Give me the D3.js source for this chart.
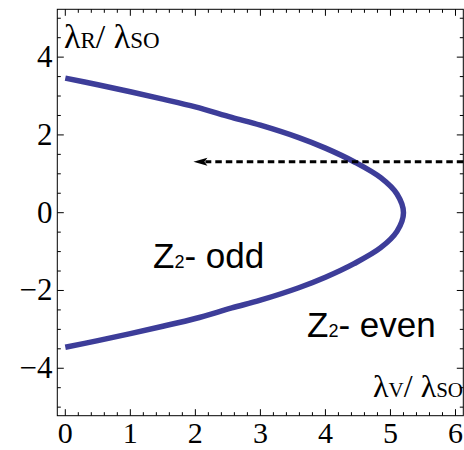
<!DOCTYPE html>
<html>
<head>
<meta charset="utf-8">
<script src="https://cdn.jsdelivr.net/npm/d3@7"></script>
<style>
  html, body { margin: 0; padding: 0; background: #fff; }
  svg { display: block; }
  .serif { font-family: "Liberation Serif", "Times New Roman", serif; }
  .sans { font-family: "Liberation Sans", Arial, sans-serif; }
</style>
</head>
<body>
<svg id="chart" width="464" height="450"></svg>
<script>
// ---- data ----
const lambdaV = [0, 0.5, 1.0, 1.5, 2.0, 2.56, 3.0, 3.59, 4.0, 4.44, 4.85, 5.1, 5.2,
                 5.1, 4.85, 4.44, 4.0, 3.59, 3.0, 2.56, 2.0, 1.5, 1.0, 0.5, 0];
const lambdaR = [3.46, 3.29, 3.11, 2.92, 2.72, 2.45, 2.25, 1.93, 1.66, 1.31, 0.9, 0.48, 0,
                 -0.48, -0.9, -1.31, -1.66, -1.93, -2.25, -2.45, -2.72, -2.92, -3.11, -3.29, -3.46];
const xMajorTicks = [0, 1, 2, 3, 4, 5, 6];
const yMajorTicks = [-4, -2, 0, 2, 4];
const arrowY = [1.31];
const arrowX = [6.12, 1.97];
const regionLabels = ["odd", "even"];

const svg = d3.select("#chart");
const x = d3.scaleLinear().domain([-0.123, 6.12]).range([57.3, 463.3]);
const y = d3.scaleLinear().domain([-5.22, 5.23]).range([415.7, 9.3]);

// frame
const [x0, x1] = x.range();
const [y0, y1] = [y.range()[1], y.range()[0]];

// minor ticks
const xMinor = d3.range(0, 6.1001, 0.2).map(v => +v.toFixed(2)).filter(v => !xMajorTicks.includes(v));
const yMinor = d3.range(-5, 5.0001, 0.5).map(v => +v.toFixed(2)).filter(v => !yMajorTicks.includes(v));

const ticks = svg.append("g").attr("stroke", "#000").attr("stroke-width", 1);
function xt(v, len) {
  ticks.append("line").attr("x1", x(v)).attr("x2", x(v)).attr("y1", y1).attr("y2", y1 - len);
  ticks.append("line").attr("x1", x(v)).attr("x2", x(v)).attr("y1", y0).attr("y2", y0 + len);
}
function yt(v, len) {
  ticks.append("line").attr("y1", y(v)).attr("y2", y(v)).attr("x1", x0).attr("x2", x0 + len);
  ticks.append("line").attr("y1", y(v)).attr("y2", y(v)).attr("x1", x1).attr("x2", x1 - len);
}
xMajorTicks.forEach(v => xt(v, 6.5));
xMinor.forEach(v => xt(v, 3.5));
yMajorTicks.forEach(v => yt(v, 6.5));
yMinor.forEach(v => yt(v, 3.5));

svg.append("rect")
  .attr("x", x0).attr("y", y0).attr("width", x1 - x0).attr("height", y1 - y0)
  .attr("fill", "none").attr("stroke", "#000").attr("stroke-width", 1);

// tick labels
const fmt = v => (v < 0 ? "\u2212" + Math.abs(v) : String(v));
svg.append("g").selectAll("text").data(xMajorTicks).join("text")
  .attr("class", "serif")
  .attr("x", d => x(d)).attr("y", 443)
  .attr("text-anchor", "middle")
  .attr("font-size", 30)
  .text(d => fmt(d));
svg.append("g").selectAll("text").data(yMajorTicks).join("text")
  .attr("class", "serif")
  .attr("x", 52.5).attr("y", d => y(d) + 10)
  .attr("text-anchor", "end")
  .attr("font-size", 31)
  .text(d => fmt(d));

// curve
const pts = lambdaV.map((v, i) => [v, lambdaR[i]]);
svg.append("path")
  .datum(pts)
  .attr("d", d3.line().x(d => x(d[0])).y(d => y(d[1])).curve(d3.curveCatmullRom.alpha(0.5)))
  .attr("fill", "none")
  .attr("stroke", "#3d3d99")
  .attr("stroke-width", 5.5);

// dashed arrow
const ay = y(arrowY[0]);
const tipX = x(arrowX[1]);
svg.append("line")
  .attr("x1", x(arrowX[0])).attr("x2", tipX + 12)
  .attr("y1", ay).attr("y2", ay)
  .attr("stroke", "#000").attr("stroke-width", 3)
  .attr("stroke-dasharray", "6.5,4");
svg.append("path")
  .attr("d", `M${tipX},${ay} L${tipX + 14},${ay - 4} L${tipX + 11},${ay} L${tipX + 14},${ay + 4} Z`)
  .attr("fill", "#000");

// axis labels
const lblTop = svg.append("text").attr("class", "serif").attr("x", 64).attr("y", 48)
  .attr("font-size", 34);
lblTop.append("tspan").text("\u03bb");
lblTop.append("tspan").attr("font-size", 23).text("R");
lblTop.append("tspan").text("/ \u03bb");
lblTop.append("tspan").attr("font-size", 23).text("SO");

const lblBot = svg.append("text").attr("class", "serif").attr("x", 463).attr("y", 397)
  .attr("text-anchor", "end")
  .attr("font-size", 32);
lblBot.append("tspan").text("\u03bb");
lblBot.append("tspan").attr("font-size", 21).text("V");
lblBot.append("tspan").text("/ \u03bb");
lblBot.append("tspan").attr("font-size", 21).text("SO");

// region labels
function zlabel(px, py, word) {
  const t = svg.append("text").attr("class", "sans").attr("x", px).attr("y", py)
    .attr("font-size", 35);
  t.append("tspan").text("Z");
  t.append("tspan").attr("font-size", 18).text("2");
  t.append("tspan").text("- " + word);
}
zlabel(153, 268, regionLabels[0]);
zlabel(307, 337, regionLabels[1]);
</script>
</body>
</html>
